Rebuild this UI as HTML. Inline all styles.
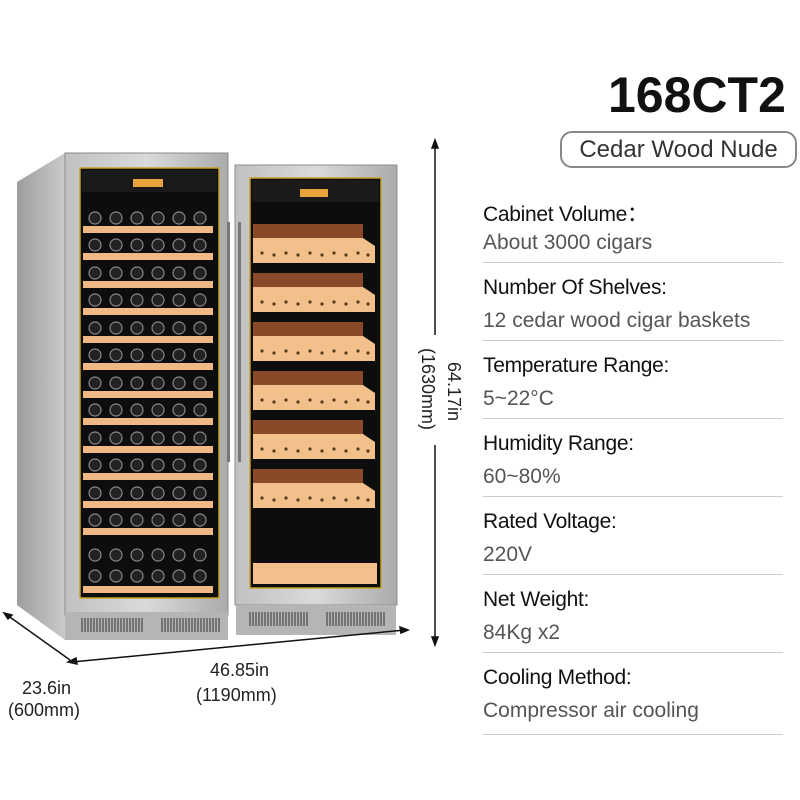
<!DOCTYPE html>
<html><head><style>
body{margin:0;width:800px;height:800px;background:#fff;position:relative;overflow:hidden;font-family:"Liberation Sans",sans-serif}
.t{position:absolute;left:483px;font-size:21px;color:#111;letter-spacing:-0.3px}
.v{position:absolute;left:483px;font-size:21px;color:#555}
.l{position:absolute;left:483px;width:300px;height:1px;background:#ccc}
</style></head><body>
<svg width="800" height="800" style="position:absolute;left:0;top:0">
<defs>
<linearGradient id="steel" x1="0" x2="1"><stop offset="0" stop-color="#bfc1c3"/><stop offset=".5" stop-color="#d8dadb"/><stop offset="1" stop-color="#a9abad"/></linearGradient>
<linearGradient id="side" x1="0" x2="1"><stop offset="0" stop-color="#9c9ea0"/><stop offset="1" stop-color="#c8cacb"/></linearGradient>
</defs>
<polygon points="17,182 65,153 65,640 17,605" fill="url(#side)"/>
<rect x="65" y="153" width="163" height="462" fill="url(#steel)" stroke="#8a8c8e"/>
<rect x="235" y="165" width="162" height="440" fill="url(#steel)" stroke="#8a8c8e"/>
<rect x="65" y="612" width="163" height="28" fill="#b3b5b7"/>
<rect x="236" y="605" width="160" height="30" fill="#b3b5b7"/>
<g stroke="#333" stroke-width="1">
<path d="M82 618v14M85 618v14M88 618v14M91 618v14M94 618v14M97 618v14M100 618v14M103 618v14M106 618v14M109 618v14M112 618v14M115 618v14M118 618v14M121 618v14M124 618v14M127 618v14M130 618v14M133 618v14M136 618v14M139 618v14M142 618v14"/>
<path d="M162 618v14M165 618v14M168 618v14M171 618v14M174 618v14M177 618v14M180 618v14M183 618v14M186 618v14M189 618v14M192 618v14M195 618v14M198 618v14M201 618v14M204 618v14M207 618v14M210 618v14M213 618v14M216 618v14M219 618v14"/>
<path d="M250 612v14M253 612v14M256 612v14M259 612v14M262 612v14M265 612v14M268 612v14M271 612v14M274 612v14M277 612v14M280 612v14M283 612v14M286 612v14M289 612v14M292 612v14M295 612v14M298 612v14M301 612v14M304 612v14M307 612v14"/>
<path d="M327 612v14M330 612v14M333 612v14M336 612v14M339 612v14M342 612v14M345 612v14M348 612v14M351 612v14M354 612v14M357 612v14M360 612v14M363 612v14M366 612v14M369 612v14M372 612v14M375 612v14M378 612v14M381 612v14M384 612v14"/>
</g>
<rect x="80" y="168" width="139" height="430" fill="#0d0d0d" stroke="#c9a227" stroke-width="1.5"/>
<rect x="250" y="178" width="131" height="410" fill="#0d0d0d" stroke="#c9a227" stroke-width="1.5"/>
<rect x="82" y="170" width="135" height="22" fill="#1a1a1a"/>
<rect x="133" y="179" width="30" height="8" fill="#e8a33a"/>
<rect x="252" y="180" width="127" height="22" fill="#1a1a1a"/>
<rect x="300" y="189" width="28" height="8" fill="#e8a33a"/>
<g fill="#f0b884">
<rect x="83" y="226" width="130" height="7"/><rect x="83" y="253" width="130" height="7"/><rect x="83" y="281" width="130" height="7"/><rect x="83" y="308" width="130" height="7"/><rect x="83" y="336" width="130" height="7"/><rect x="83" y="363" width="130" height="7"/><rect x="83" y="391" width="130" height="7"/><rect x="83" y="418" width="130" height="7"/><rect x="83" y="446" width="130" height="7"/><rect x="83" y="473" width="130" height="7"/><rect x="83" y="501" width="130" height="7"/><rect x="83" y="528" width="130" height="7"/><rect x="83" y="586" width="130" height="7"/>
</g>
<g fill="#222" stroke="#888" stroke-width="1.2" id="bt">
<circle cx="95" cy="218" r="6"/><circle cx="116" cy="218" r="6"/><circle cx="137" cy="218" r="6"/><circle cx="158" cy="218" r="6"/><circle cx="179" cy="218" r="6"/><circle cx="200" cy="218" r="6"/>
</g>
<use href="#bt" y="27"/><use href="#bt" y="55"/><use href="#bt" y="82"/><use href="#bt" y="110"/><use href="#bt" y="137"/><use href="#bt" y="165"/><use href="#bt" y="192"/><use href="#bt" y="220"/><use href="#bt" y="247"/><use href="#bt" y="275"/><use href="#bt" y="302"/><use href="#bt" y="337"/><use href="#bt" y="358"/>
<g id="tr">
<rect x="253" y="224" width="110" height="18" fill="#8a4a2a"/>
<path d="M253 238 h110 l12 8 v17 h-122z" fill="#f2c08a"/>
<g fill="#5a3a1a"><circle cx="262" cy="253" r="1.6"/><circle cx="274" cy="255" r="1.6"/><circle cx="286" cy="253" r="1.6"/><circle cx="298" cy="255" r="1.6"/><circle cx="310" cy="253" r="1.6"/><circle cx="322" cy="255" r="1.6"/><circle cx="334" cy="253" r="1.6"/><circle cx="346" cy="255" r="1.6"/><circle cx="358" cy="253" r="1.6"/><circle cx="368" cy="255" r="1.6"/></g>
</g>
<use href="#tr" y="49"/><use href="#tr" y="98"/><use href="#tr" y="147"/><use href="#tr" y="196"/><use href="#tr" y="245"/>
<rect x="253" y="563" width="124" height="21" fill="#f2c08a"/>
<rect x="227" y="222" width="3" height="240" fill="#777"/><rect x="238" y="222" width="3" height="240" fill="#777"/>
<g stroke="#111" stroke-width="1.5" fill="#111">
<line x1="435" y1="145" x2="435" y2="335"/><line x1="435" y1="445" x2="435" y2="640"/>
<path d="M435 140 l-3 8 h6z"/><path d="M435 645 l-3 -8 h6z"/>
<line x1="72" y1="662" x2="405" y2="630"/><path d="M68 662 l8 -4 l1 6z"/><path d="M408 630 l-8 -3 l1 6z"/>
<line x1="7" y1="615" x2="70" y2="660"/><path d="M4 613 l8 2 l-4 4z"/>
</g>
<text x="0" y="0" transform="translate(448,362) rotate(90)" font-family="Liberation Sans" font-size="18" fill="#222">64.17in</text>
<text x="0" y="0" transform="translate(422,348) rotate(90)" font-family="Liberation Sans" font-size="18" fill="#222">(1630mm)</text>
</svg>
<div style="position:absolute;left:210px;top:660px;font-size:18px;color:#222">46.85in</div>
<div style="position:absolute;left:196px;top:685px;font-size:18px;color:#222">(1190mm)</div>
<div style="position:absolute;left:22px;top:678px;font-size:18px;color:#222">23.6in</div>
<div style="position:absolute;left:8px;top:700px;font-size:18px;color:#222">(600mm)</div>
<div style="position:absolute;left:608px;top:66px;font-size:50px;font-weight:bold;color:#111">168CT2</div>
<div style="position:absolute;left:560px;top:131px;width:233px;height:33px;border:2px solid #888;border-radius:12px;font-size:24px;color:#333;text-align:center;line-height:34px">Cedar Wood Nude</div>
<div class="t" style="top:198px">Cabinet Volume：</div><div class="v" style="top:231px">About 3000 cigars</div><div class="l" style="top:262px"></div>
<div class="t" style="top:276px">Number Of Shelves:</div><div class="v" style="top:309px">12 cedar wood cigar baskets</div><div class="l" style="top:340px"></div>
<div class="t" style="top:354px">Temperature Range:</div><div class="v" style="top:387px">5~22°C</div><div class="l" style="top:418px"></div>
<div class="t" style="top:432px">Humidity Range:</div><div class="v" style="top:465px">60~80%</div><div class="l" style="top:496px"></div>
<div class="t" style="top:510px">Rated Voltage:</div><div class="v" style="top:543px">220V</div><div class="l" style="top:574px"></div>
<div class="t" style="top:588px">Net Weight:</div><div class="v" style="top:621px">84Kg x2</div><div class="l" style="top:652px"></div>
<div class="t" style="top:666px">Cooling Method:</div><div class="v" style="top:699px">Compressor air cooling</div><div class="l" style="top:734px"></div>
</body></html>
